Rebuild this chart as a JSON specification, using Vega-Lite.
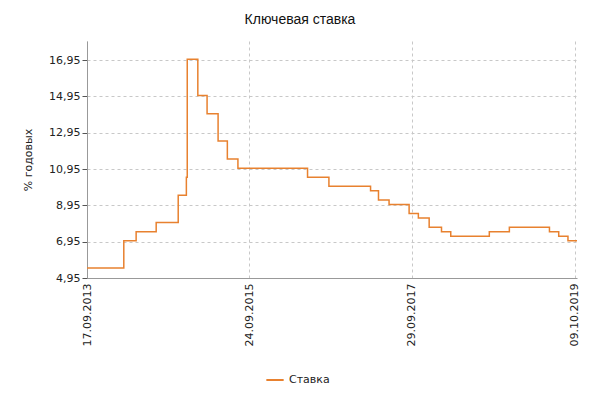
{
  "$schema": "https://vega.github.io/schema/vega-lite/v6.json",
  "autosize": "none",
  "width": 490,
  "height": 237,
  "padding": {"left": 87, "top": 41, "right": 23, "bottom": 122},
  "background": "white",
  "title": {
    "text": "Ключевая ставка",
    "anchor": "middle",
    "frame": "group",
    "dx": -32,
    "offset": 14,
    "fontSize": 14,
    "fontWeight": "normal",
    "font": "Liberation Sans",
    "color": "#111"
  },
  "data": {
    "values": [
      {"date": "2013-09-17", "rate": 5.5},
      {"date": "2014-03-03", "rate": 7.0},
      {"date": "2014-04-28", "rate": 7.5},
      {"date": "2014-07-28", "rate": 8.0},
      {"date": "2014-11-05", "rate": 9.5},
      {"date": "2014-12-12", "rate": 10.5},
      {"date": "2014-12-16", "rate": 17.0},
      {"date": "2015-02-02", "rate": 15.0},
      {"date": "2015-03-16", "rate": 14.0},
      {"date": "2015-05-05", "rate": 12.5},
      {"date": "2015-06-16", "rate": 11.5},
      {"date": "2015-08-03", "rate": 11.0},
      {"date": "2016-06-14", "rate": 10.5},
      {"date": "2016-09-19", "rate": 10.0},
      {"date": "2017-03-27", "rate": 9.75},
      {"date": "2017-05-02", "rate": 9.25},
      {"date": "2017-06-19", "rate": 9.0},
      {"date": "2017-09-18", "rate": 8.5},
      {"date": "2017-10-30", "rate": 8.25},
      {"date": "2017-12-18", "rate": 7.75},
      {"date": "2018-02-12", "rate": 7.5},
      {"date": "2018-03-26", "rate": 7.25},
      {"date": "2018-09-17", "rate": 7.5},
      {"date": "2018-12-17", "rate": 7.75},
      {"date": "2019-06-17", "rate": 7.5},
      {"date": "2019-07-29", "rate": 7.25},
      {"date": "2019-09-09", "rate": 7.0},
      {"date": "2019-10-20", "rate": 7.0}
    ]
  },
  "mark": {"type": "line", "interpolate": "step-after", "strokeWidth": 1.5},
  "encoding": {
    "x": {
      "field": "date",
      "type": "temporal",
      "scale": {"domain": [{"year": 2013, "month": 9, "date": 17}, {"year": 2019, "month": 10, "date": 20}]},
      "axis": {
        "title": null,
        "values": [
          {"year": 2013, "month": 9, "date": 17},
          {"year": 2015, "month": 9, "date": 24},
          {"year": 2017, "month": 9, "date": 29},
          {"year": 2019, "month": 10, "date": 9}
        ],
        "format": "%d.%m.%Y",
        "labelAngle": -90,
        "labelAlign": "right",
        "labelBaseline": "middle",
        "labelFont": "DejaVu Sans",
        "labelFontSize": 11,
        "labelColor": "#222",
        "grid": true,
        "gridDash": [3, 3],
        "gridColor": "#c8c8c8",
        "domainColor": "#999",
        "tickColor": "#999",
        "tickSize": 0,
        "labelPadding": 5,
        "labelFlush": false,
        "labelOverlap": false
      }
    },
    "y": {
      "field": "rate",
      "type": "quantitative",
      "scale": {"domain": [4.95, 18.0], "nice": false, "zero": false},
      "axis": {
        "title": "% годовых",
        "titleFont": "DejaVu Sans",
        "titleFontSize": 11,
        "titleFontWeight": "normal",
        "titleColor": "#222",
        "titlePadding": 15,
        "values": [4.95, 6.95, 8.95, 10.95, 12.95, 14.95, 16.95],
        "labelExpr": "replace(format(datum.value, '.2f'), '.', ',')",
        "labelFont": "DejaVu Sans",
        "labelFontSize": 11,
        "labelColor": "#222",
        "grid": true,
        "gridDash": [3, 3],
        "gridColor": "#c8c8c8",
        "domainColor": "#999",
        "tickColor": "#555",
        "tickSize": 5,
        "labelPadding": 2
      }
    },
    "color": {
      "datum": "Ставка",
      "type": "nominal",
      "scale": {"range": ["#e8812f"]},
      "legend": {
        "title": null,
        "orient": "none",
        "legendX": 178,
        "legendY": 329,
        "symbolType": "stroke",
        "symbolStrokeWidth": 2,
        "symbolSize": 300,
        "labelFont": "DejaVu Sans",
        "labelFontSize": 11,
        "labelColor": "#222"
      }
    }
  },
  "config": {"view": {"stroke": null}}
}
